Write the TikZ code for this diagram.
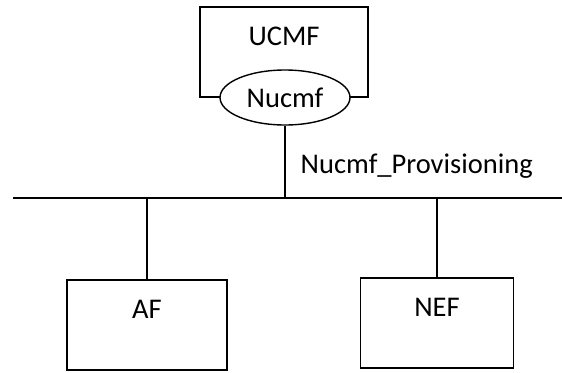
\documentclass[tikz,border=0pt]{standalone}
\usepackage{fontspec}
\setmainfont{Carlito}
\usetikzlibrary{shapes.geometric,positioning}

\begin{document}
\begin{tikzpicture}[x=1pt, y=-1pt, line width=1.4pt, font=\fontsize{28.5}{34}\selectfont,
    box/.style={draw, rectangle, inner sep=0pt}]
    \useasboundingbox (0,0) rectangle (562,372);
    % UCMF with its service interface
    \node[box, minimum width=168pt, minimum height=90pt] (ucmf) at (284,52) {};
    \node[below=20pt of ucmf.north, inner sep=0pt] (ucmftxt) {UCMF};
    \node[draw, ellipse, fill=white, inner sep=0pt, minimum width=130pt, minimum height=55pt] (nucmf) at (285,97.5) {Nucmf};
    % bus
    \coordinate (busL) at (13,198);
    \coordinate (busR) at (562,198);
    \draw (busL) -- (busR);
    \draw (nucmf.south) -- node[right=15pt, inner sep=0pt, yshift=-4pt] {Nucmf\_Provisioning} (nucmf.south |- busL);
    % consumers
    \node[box, minimum width=160pt, minimum height=90pt] (af) at (147,325) {};
    \node[below=20pt of af.north, inner sep=0pt] {AF};
    \node[box, minimum width=153pt, minimum height=90pt] (nef) at (437,323) {};
    \node[below=20pt of nef.north, inner sep=0pt] {NEF};
    \draw (af.north) -- (af.north |- busL);
    \draw (nef.north) -- (nef.north |- busL);
\end{tikzpicture}
\end{document}
